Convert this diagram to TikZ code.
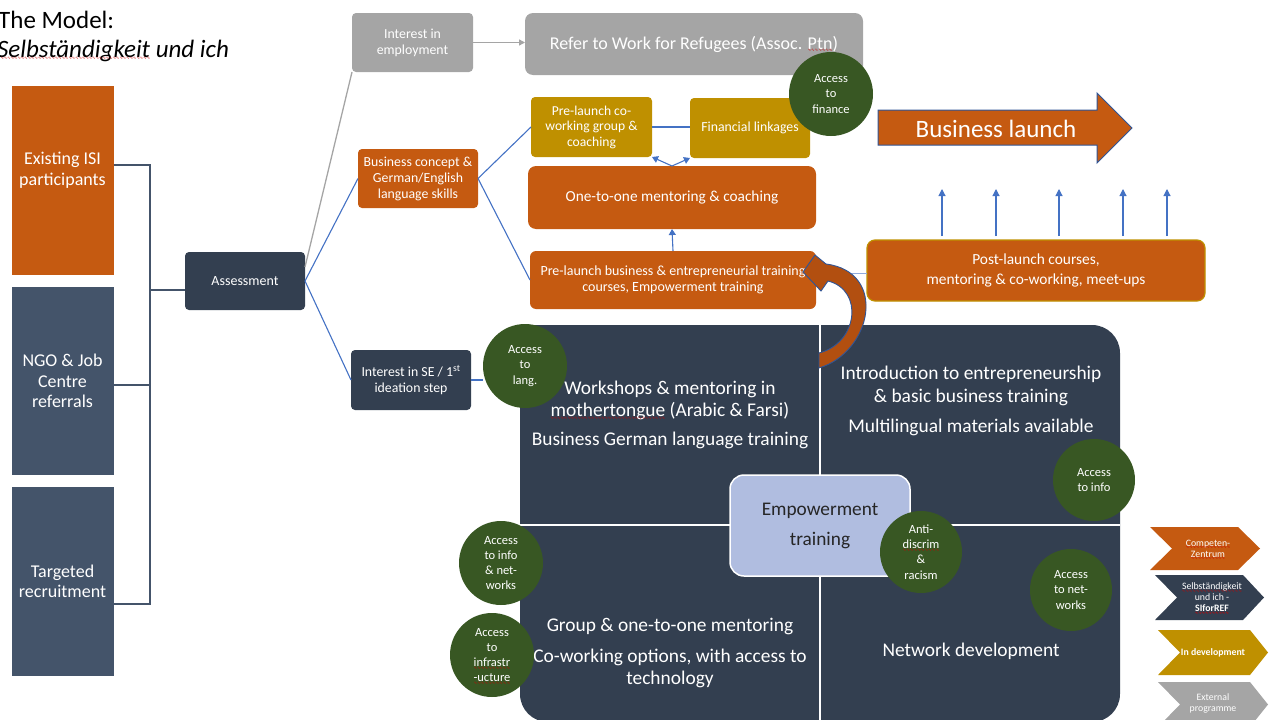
\documentclass[tikz,border=0pt]{standalone}
\usepackage{fontspec}
\setmainfont{Carlito}
\newfontfamily\wavefont{DejaVu Sans}
\usetikzlibrary{arrows.meta,calc}

\definecolor{isiorange}{HTML}{C55A11}
\definecolor{slatedark}{HTML}{333F50}
\definecolor{slate}{HTML}{44546A}
\definecolor{goldbox}{HTML}{BF9000}
\definecolor{greybox}{HTML}{A5A5A5}
\definecolor{accessgreen}{HTML}{385723}
\definecolor{linkblue}{HTML}{4472C4}
\definecolor{paleblue}{HTML}{8FAADC}
\definecolor{outlineblue}{HTML}{2F5597}
\definecolor{empblue}{HTML}{B0BDE0}
\definecolor{curvebrown}{HTML}{B24F10}

% red wavy underline as left by a spell checker
\newsavebox\spellbox
\newcommand\spelled[1]{\sbox\spellbox{#1}\leavevmode\rlap{\usebox\spellbox}%
  \raisebox{-2.8pt}[0pt][0pt]{\hbox to \wd\spellbox{\color{red!80!black}\wavefont\fontsize{4pt}{4pt}\selectfont\xleaders\hbox{∿}\hfill}}}
\newcommand\fsz[2]{\fontsize{#1pt}{#2pt}\selectfont}

\tikzset{
  box/.style={rectangle, inner sep=2pt, outer sep=0pt, align=center, text=white},
  sidebox/.style={box, minimum width=102pt, font=\fsz{18}{20.5}},
  smallbox/.style={box, rounded corners=4pt, minimum width=120pt, minimum height=59pt, font=\fsz{13.8}{16}},
  access/.style={circle, fill=accessgreen, minimum size=84pt, inner sep=0pt, outer sep=0pt,
                 text=white, align=center, font=\fsz{12.5}{15.3}},
  quad/.style={text=white, align=center, font=\fsz{19.4}{22.5}},
  bracket/.style={draw=slate, line width=1.3pt},
  link/.style={draw=linkblue, line width=1.1pt},
  greylink/.style={draw=greybox, line width=1.3pt},
  blueup/.style={draw=linkblue, line width=1.1pt, -{Triangle[length=7pt,width=7pt]}},
  legendtext/.style={text=white, align=center, font=\fsz{9.8}{11}},
}

\begin{document}
\begin{tikzpicture}[x=1pt,y=-1pt]
\useasboundingbox (0,0) rectangle (1275,720);
\clip (0,0) rectangle (1275,720);

% ---------- title ----------
\node[anchor=base west, inner sep=0pt, font=\fsz{25}{29}] (title) at (-2,28) {The Model:};
\node[anchor=base west, inner sep=0pt, font=\fsz{25}{29}\itshape] (subtitle) at (-3,57) {\spelled{Selbständigkeit} und ich};

% ---------- programme matrix ----------
\fill[slatedark, rounded corners=28pt] (520,325) rectangle (1120,722);
\fill[slatedark] (520,325) rectangle (600,400);
\draw[white, line width=1.5pt] (820,325) -- (820,722);
\draw[white, line width=1.5pt] (520,525) -- (1120,525);

\node[quad] (qtl) at (670,415) {Workshops \& mentoring in\\\spelled{mothertongue} (Arabic \& Farsi)\\[6.5pt]Business German language training};
\node[quad] (qtr) at (971,401) {Introduction to entrepreneurship\\\& basic business training\\[7.5pt]Multilingual materials available};
\node[quad] (qbl) at (670,653) {Group \& one-to-one mentoring\\[8pt]Co-working options, with access to\\technology};
\node[quad] (qbr) at (971,651) {Network development};

% ---------- entry routes ----------
\node[sidebox, fill=isiorange, minimum height=189pt] (isi) at (62.5,180.5) {};
\node[box, font=\fsz{18}{21}] (isitext) at ([yshift=10pt]isi.center) {Existing ISI\\participants};
\node[sidebox, fill=slate, minimum height=188pt] (ngo) at (62.5,381) {NGO \& Job\\Centre\\referrals};
\node[sidebox, fill=slate, minimum height=189pt] (tgt) at (62.5,581.5) {Targeted\\recruitment};

\node[box, fill=slatedark, rounded corners=4pt, minimum width=120pt, minimum height=58pt, font=\fsz{14}{16}] (assess) at (245,281) {Assessment};

% ---------- pathways ----------
\node[smallbox, fill=greybox, minimum width=121pt] (emp) at (412.5,42.5) {Interest in\\employment};
\node[box, fill=greybox, rounded corners=8pt, minimum width=338pt, minimum height=62pt, font=\fsz{18}{21}] (refer) at (694,44) {Refer to Work for Refugees (Assoc. \spelled{Ptn})};
\node[smallbox, fill=isiorange] (bcon) at (418,178.5) {Business concept \&\\German/English\\language skills};
\node[smallbox, fill=slatedark, minimum height=60pt] (ise) at (411,380) {Interest in SE / 1\textsuperscript{st}\\ideation step};

\node[smallbox, fill=goldbox, minimum width=121pt, minimum height=60pt, font=\fsz{13.6}{15.5}] (cowork) at (591.5,127) {Pre-launch co-\\working group \&\\coaching};
\node[smallbox, fill=goldbox, minimum height=60pt, font=\fsz{13.8}{16}] (finlink) at (750,128) {Financial linkages};
\node[box, fill=isiorange, rounded corners=8pt, minimum width=288pt, minimum height=63pt, font=\fsz{15.3}{18}] (o2o) at (672,197.5) {One-to-one mentoring \& coaching};
\node[box, fill=isiorange, rounded corners=6pt, minimum width=286pt, minimum height=58pt, font=\fsz{14}{16.5}] (prel) at (673,280) {Pre-launch business \& entrepreneurial training\\courses, Empowerment training};
\node[box, fill=isiorange, draw=goldbox, line width=1.2pt, rounded corners=8pt, minimum width=338pt, minimum height=61pt, font=\fsz{15.4}{20}] (post) at (1036,270.5) {Post-launch courses,\\mentoring \& co-working, meet-ups};

% business launch arrow
\filldraw[fill=isiorange, draw=outlineblue, line width=1pt]
  (878,110) -- (1097,110) -- (1097,93) -- (1132,128) -- (1097,163) -- (1097,145) -- (878,145) -- cycle;
\node[text=white, font=\fsz{25}{29}] (launch) at (996,129) {Business launch};

% ---------- connectors ----------
\coordinate (jn) at (150,290);
\draw[bracket] ([yshift=15.5pt]isi.east) -| (jn);
\draw[bracket] ([yshift=-4pt]ngo.east) -| (jn);
\draw[bracket] ([yshift=-22.5pt]tgt.east) -| (jn);
\draw[bracket] (jn) -- (jn -| assess.west);

\draw[greylink] ([yshift=14pt]assess.east) -- (emp.south west);
\draw[link] (assess.east) -- (bcon.west);
\draw[link] (assess.east) -- (ise.west);
\draw[greylink, -{Triangle[length=6pt,width=6pt]}] (emp.east) -- (emp.east -| refer.west);

\draw[link] (bcon.east) -- (cowork.west);
\draw[link] (bcon.east) -- (prel.west);
\draw[link] (cowork.east) -- (cowork.east -| finlink.west);
\draw[link, -{Triangle[length=6pt,width=7pt]}] (o2o.north) -- (cowork.south east);
\draw[link, -{Triangle[length=6pt,width=7pt]}] (o2o.north) -- (finlink.south west);
\draw[link, -{Triangle[length=6pt,width=7pt]}] (prel.north) -- (o2o.south);

\draw[draw=paleblue, line width=1.3pt] ([yshift=-3pt]post.west) -- ([yshift=-3pt]post.west -| prel.east);
\foreach \dx in {-94,-40,23,87,131}
  \draw[blueup] ([xshift=\dx pt,yshift=4pt]post.north) -- ++(0,-47);

% curved arrow from the training matrix back into pre-launch training
\filldraw[fill=curvebrown, draw=outlineblue, line width=0.9pt]
  (819,368) .. controls (872,352) and (888,272) .. (826,264)
  -- (815,255) -- (803,272) -- (821,291) -- (828,281)
  .. controls (864,290) and (858,343) .. (819,353) -- cycle;

% ---------- empowerment core ----------
\node[box, fill=empblue, draw=white, line width=1.5pt, rounded corners=14pt, minimum width=180pt, minimum height=101pt, text=black!85, font=\fsz{19.3}{30}] (empw) at (820,525.5) {Empowerment\\training};

% ---------- access circles ----------
\node[access] (lang) at (525,366) {Access\\to\\lang.};
\node[access] (finance) at (831,94) {Access\\to\\finance};
\node[access, minimum size=82pt] (infotr) at (1094,480) {Access\\to info};
\node[access, minimum size=82pt] (antidisc) at (921,552) {Anti-\\\spelled{discrim}\\\&\\racism};
\node[access, minimum size=82pt] (netw) at (1071,590) {Access\\to net-\\works};
\node[access] (infonet) at (501,563) {Access\\to info\\\& net-\\works};
\node[access] (infra) at (492,655) {Access\\to\\\spelled{infrastr}\\\spelled{-ucture}};

\draw[link] (ise.east) -- (ise.east -| lang.west);

% ---------- legend ----------
\fill[isiorange] (1150,527) -- (1238,527) -- (1260,548.5) -- (1238,570) -- (1150,570) -- (1172,548.5) -- cycle;
\node[legendtext] (legcz) at (1208,548.5) {\spelled{Competen-}\\\spelled{Zentrum}};
\fill[slatedark] (1155,575) -- (1243,575) -- (1264,597.5) -- (1243,620) -- (1155,620) -- (1177,597.5) -- cycle;
\node[legendtext] (legsi) at (1212,597.5) {\spelled{Selbständigkeit}\\und ich -\\\textbf{\spelled{SIforREF}}};
\fill[goldbox] (1158,630) -- (1250,630) -- (1268,652.5) -- (1250,675) -- (1158,675) -- (1180,652.5) -- cycle;
\node[legendtext, font=\fsz{9.8}{11}\bfseries] (legdev) at (1213,652.5) {In development};
\fill[greybox] (1158,682) -- (1250,682) -- (1268,704.5) -- (1250,727) -- (1158,727) -- (1180,704.5) -- cycle;
\node[legendtext] (legext) at (1213,703) {External\\programme};
\end{tikzpicture}
\end{document}
